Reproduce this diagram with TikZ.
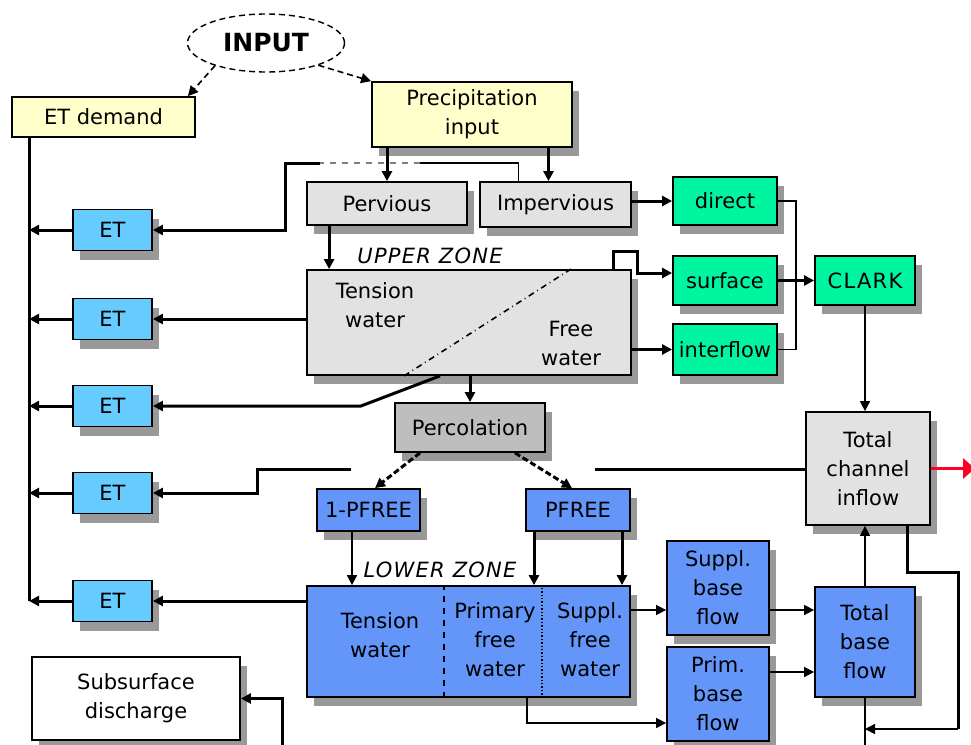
\documentclass[tikz,border=0pt]{standalone}
\usepackage{fontspec}
\setmainfont{DejaVu Sans}
\usetikzlibrary{arrows.meta,positioning,calc,shapes.geometric,shadows}
\newcommand{\diagfont}{\fontsize{10.5}{14.5}\selectfont}
\definecolor{paleyellow}{RGB}{255,255,204}
\definecolor{palegrey}{RGB}{226,226,226}
\definecolor{midgrey}{RGB}{190,190,190}
\definecolor{mint}{RGB}{0,245,160}
\definecolor{skyblue}{RGB}{102,204,255}
\definecolor{zoneblue}{RGB}{100,150,250}
\definecolor{outred}{RGB}{255,0,40}
\tikzset{
  basebox/.style={rectangle, draw=black, line width=0.9pt, inner sep=1pt, align=center, font=\diagfont},
  shadowed/.style={drop shadow={shadow xshift=3.5pt, shadow yshift=-4.5pt, fill=black!40, opacity=1}},
  yellowbox/.style={basebox, fill=paleyellow},
  greybox/.style={basebox, shadowed, fill=palegrey},
  percbox/.style={basebox, shadowed, fill=midgrey},
  greenbox/.style={basebox, shadowed, fill=mint, minimum width=52pt},
  etbox/.style={basebox, shadowed, fill=skyblue, minimum width=39.5pt, minimum height=20.5pt},
  bluebox/.style={basebox, shadowed, fill=zoneblue},
  whitebox/.style={basebox, shadowed, fill=white},
  boxtext/.style={align=center, inner sep=0pt, font=\diagfont},
  widetext/.style={font=\diagfont\addfontfeature{LetterSpace=6}},
  zonelabel/.style={inner sep=0pt, font=\diagfont\itshape\addfontfeature{LetterSpace=6}},
  heavyline/.style={line width=1.5pt},
  lightline/.style={line width=0.8pt},
  arrow/.style={-{Triangle[length=5pt, width=5pt]}, line width=1.5pt},
  thinarrow/.style={-{Triangle[length=5pt, width=5pt]}, line width=0.8pt},
  dasharrow/.style={arrow, dash pattern=on 3pt off 1.5pt},
  redarrow/.style={-{Triangle[length=6pt, width=10pt]}, line width=1.5pt, outred}
}

\begin{document}
\begin{tikzpicture}[x=0.5pt, y=-0.5pt]
  \clip (0,0) rectangle (971,745);

  % input and its split
  \node[ellipse, draw, densely dashed, line width=0.7pt, minimum width=78.5pt, minimum height=29pt, inner sep=0pt, font=\fontsize{12.5}{14}\selectfont\bfseries] (input) at (266,43) {INPUT};
  \node[yellowbox, minimum width=91.5pt, minimum height=20pt] (etdemand) at (103.5,117) {ET demand};
  \node[yellowbox, shadowed, minimum width=100pt, minimum height=32.5pt] (precip) at (472,114.5) {Precipitation\\input};
  \node[greybox, minimum width=80pt, minimum height=21.5pt] (pervious) at (387,203.5) {Pervious};
  \node[greybox, minimum width=75.5pt, minimum height=22.5pt] (impervious) at (555.5,204.5) {Impervious};

  % runoff components
  \node[greenbox, minimum height=24pt] (direct) at (725,201) {direct};
  \node[greenbox, minimum height=24.5pt] (surface) at (725,280.5) {surface};
  \node[greenbox, minimum height=25.5pt] (interflow) at (725,349.5) {interflow};
  \node[greenbox, widetext, minimum width=50pt, minimum height=24.5pt] (clark) at (865,280.5) {CLARK};

  % upper zone
  \node[greybox, minimum width=162pt, minimum height=52.5pt] (upper) at (469,322.5) {};
  \node[zonelabel] (upperlabel) at (430,256) {UPPER ZONE};
  \node[boxtext] (uptension) at (375,305) {Tension\\water};
  \node[boxtext] (upfree) at (571,343) {Free\\water};

  % evapotranspiration
  \node[etbox] (et1) at (112.5,230) {ET};
  \node[etbox] (et2) at (112.5,319) {ET};
  \node[etbox] (et3) at (112.5,406) {ET};
  \node[etbox] (et4) at (112.5,493) {ET};
  \node[etbox] (et5) at (112.5,601) {ET};

  % percolation and lower zone
  \node[percbox, minimum width=75pt, minimum height=24.5pt] (percol) at (470,427.5) {Percolation};
  \node[bluebox, minimum width=51.5pt, minimum height=21pt] (pfreeone) at (368.5,510) {1-PFREE};
  \node[bluebox, minimum width=52pt, minimum height=21pt] (pfree) at (578,510) {PFREE};
  \node[bluebox, minimum width=161.5pt, minimum height=55.5pt] (lower) at (468.5,641.5) {};
  \node[zonelabel] (lowerlabel) at (440,570) {LOWER ZONE};
  \node[boxtext] (lowtension) at (380,635) {Tension\\water};
  \node[boxtext] (lowprimary) at (495,640) {Primary\\free\\water};
  \node[boxtext] (lowsuppl) at (590,640) {Suppl.\\free\\water};

  % base flow and channel
  \node[bluebox, minimum width=51pt, minimum height=47pt] (suppbase) at (718,588) {Suppl.\\base\\flow};
  \node[bluebox, minimum width=51pt, minimum height=47pt] (primbase) at (718,694) {Prim.\\base\\flow};
  \node[bluebox, minimum width=50pt, minimum height=55pt] (totbase) at (865,642) {Total\\base\\flow};
  \node[greybox, minimum width=62pt, minimum height=56.5pt] (channel) at (868,468.5) {Total\\channel\\inflow};
  \node[whitebox, minimum width=104pt, minimum height=41.5pt] (subsurf) at (136,698.5) {Subsurface\\discharge};

  % free ends
  \coordinate (spine) at ([xshift=9pt]etdemand.south west);
  \coordinate (impin) at ([xshift=-3.5pt]impervious.north);
  \coordinate (bypass) at ([xshift=-18.5pt]impervious.north);
  \coordinate (bypassA) at (420,163);
  \coordinate (bypassB) at (320,163);
  \coordinate (perc1) at ([xshift=11.5pt]pervious.south west);
  \coordinate (gapright) at (595,469);
  \coordinate (gapleft) at (351,469);
  \coordinate (lz1) at ([xshift=-8.25pt]pfreeone.south);
  \coordinate (lz2) at ([xshift=-22pt]pfree.south);
  \coordinate (lz3) at ([xshift=22pt]pfree.south);
  \coordinate (suppout) at ([yshift=-11pt]suppbase.west);
  \coordinate (primout) at ([yshift=11pt]primbase.east);
  \coordinate (loopcorner) at (958,729);
  \coordinate (outlet) at (866,745);
  \coordinate (subin) at (282,745);

  % input split
  \draw[thinarrow, densely dashed] (input.204) -- ([xshift=-4pt]etdemand.north east);
  \draw[thinarrow, densely dashed] (input.337) -- (precip.north west);
  \draw[arrow] (pervious.north |- precip.south) -- (pervious.north);
  \draw[arrow] (impin |- precip.south) -- (impin);

  % ET withdrawals
  \draw[lightline] (bypass) |- (bypassA);
  \draw[lightline, dashed, gray] (bypassA) -- (bypassB);
  \draw[arrow] (bypassB) -| ([xshift=66.5pt]et1.east) -- (et1.east);
  \draw[arrow] (et2.east -| upper.west) -- (et2.east);
  \draw[arrow] ([xshift=-14.5pt]upper.south) -- ([xshift=104pt]et3.east) -- (et3.east);
  \draw[heavyline] (gapright -| channel.west) -- (gapright);
  \draw[arrow] (gapleft) -| ([xshift=52.5pt]et4.east) -- (et4.east);
  \draw[arrow] (et5.east -| lower.west) -- (et5.east);
  \draw[heavyline] (spine) -- (spine |- et5.west);
  \draw[arrow] (et1.west) -- (et1.west -| spine);
  \draw[arrow] (et2.west) -- (et2.west -| spine);
  \draw[arrow] (et3.west) -- (et3.west -| spine);
  \draw[arrow] (et4.west) -- (et4.west -| spine);
  \draw[arrow] (et5.west) -- (et5.west -| spine);

  % upper zone
  \draw[arrow] (perc1) -- (perc1 |- upper.north);
  \draw[dash dot, line width=0.8pt] ([xshift=49pt]upper.south west) -- ([xshift=-30.5pt]upper.north east);
  \draw[arrow] ([xshift=-9pt]upper.north east) -- ++(0,-18) -- ++(24,0) |- ([yshift=3.75pt]surface.west);
  \draw[arrow] (interflow.west -| upper.east) -- (interflow.west);
  \draw[arrow] (percol.north |- upper.south) -- (percol.north);

  % runoff to CLARK
  \draw[arrow] (direct.west -| impervious.east) -- (direct.west);
  \draw[lightline] (direct.east) -- ++(18,0) |- (interflow.east);
  \draw[arrow] (surface.east) -- (clark.west);
  \draw[thinarrow] (clark.south) -- (clark.south |- channel.north);

  % percolation split
  \draw[dasharrow] ([xshift=-25pt]percol.south) -- ([xshift=3.25pt]pfreeone.north);
  \draw[dasharrow] ([xshift=22.5pt]percol.south) -- ([xshift=-3pt]pfree.north);
  \draw[thinarrow] (lz1) -- (lz1 |- lower.north);
  \draw[arrow] (lz2) -- (lz2 |- lower.north);
  \draw[arrow] (lz3) -- (lz3 |- lower.north);

  % lower zone
  \draw[dashed, line width=1.2pt] ([xshift=69pt]lower.south west) -- ([xshift=69pt]lower.north west);
  \draw[densely dotted, line width=0.7pt] ([xshift=118pt]lower.south west) -- ([xshift=118pt]lower.north west);
  \draw[thinarrow] (suppout -| lower.east) -- (suppout);
  \draw[thinarrow] ([xshift=29.25pt]lower.south) |- ([yshift=-14.5pt]primbase.west);

  % base flow
  \draw[thinarrow] (suppout -| suppbase.east) -- (suppout -| totbase.west);
  \draw[thinarrow] (primout) -- (primout -| totbase.west);
  \draw[thinarrow] (totbase.north) -- (totbase.north |- channel.south);

  % outflow
  \draw[redarrow] (channel.east) -- (975,468.5);
  \draw[heavyline] ([xshift=19.5pt]channel.south) -- ++(0,47) -| (loopcorner);
  \draw[lightline] (totbase.south |- outlet) -- (totbase.south);
  \draw[thinarrow] (loopcorner) -- (loopcorner -| totbase.south);
  \draw[arrow] (subin) |- (subsurf.east);
\end{tikzpicture}
\end{document}
